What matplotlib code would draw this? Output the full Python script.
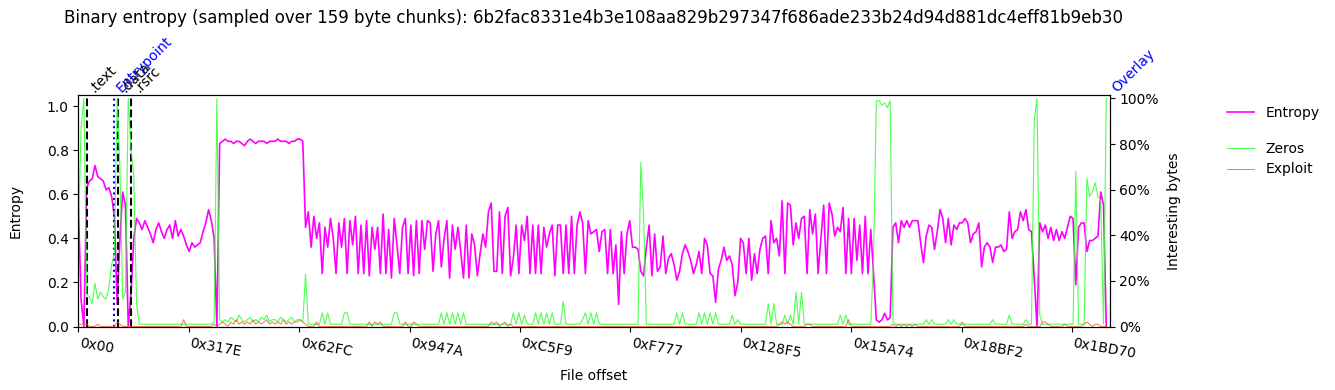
import numpy as np
import matplotlib
matplotlib.use("Agg")
import matplotlib.pyplot as plt
from matplotlib.ticker import PercentFormatter

SHA256 = "6b2fac8331e4b3e108aa829b297347f686ade233b24d94d881dc4eff81b9eb30"
CHUNK = 159
STEP = 2 * CHUNK          # one sample every other chunk
FILE_END = 118350

# entropy per sample (0..1)
ENTROPY = [
    0.54, 0.12, 0.00, 0.63, 0.66, 0.67, 0.73, 0.68, 0.67, 0.66,
    0.62, 0.63, 0.59, 0.50, 0.10, 0.40, 0.61, 0.55, 0.00, 0.15,
    0.40, 0.49, 0.47, 0.44, 0.48, 0.45, 0.42, 0.38, 0.44, 0.47,
    0.43, 0.40, 0.44, 0.46, 0.40, 0.48, 0.41, 0.44, 0.41, 0.37,
    0.34, 0.38, 0.36, 0.37, 0.38, 0.43, 0.47, 0.53, 0.48, 0.40,
    0.00, 0.83, 0.84, 0.85, 0.84, 0.84, 0.83, 0.84, 0.84, 0.83,
    0.82, 0.84, 0.85, 0.84, 0.83, 0.84, 0.84, 0.84, 0.83, 0.84,
    0.84, 0.84, 0.85, 0.84, 0.84, 0.84, 0.83, 0.84, 0.84, 0.85,
    0.85, 0.84, 0.45, 0.52, 0.36, 0.50, 0.40, 0.47, 0.24, 0.45,
    0.36, 0.49, 0.40, 0.24, 0.47, 0.36, 0.49, 0.24, 0.48, 0.37,
    0.50, 0.24, 0.46, 0.24, 0.48, 0.23, 0.45, 0.35, 0.45, 0.24,
    0.51, 0.24, 0.44, 0.22, 0.49, 0.37, 0.24, 0.45, 0.49, 0.24,
    0.46, 0.23, 0.48, 0.24, 0.48, 0.35, 0.48, 0.47, 0.25, 0.42,
    0.48, 0.27, 0.40, 0.48, 0.22, 0.46, 0.35, 0.45, 0.34, 0.22,
    0.46, 0.22, 0.42, 0.37, 0.23, 0.33, 0.42, 0.36, 0.52, 0.56,
    0.25, 0.25, 0.52, 0.24, 0.50, 0.54, 0.23, 0.31, 0.46, 0.24,
    0.46, 0.39, 0.50, 0.24, 0.46, 0.24, 0.46, 0.24, 0.45, 0.36,
    0.42, 0.46, 0.23, 0.46, 0.46, 0.24, 0.46, 0.24, 0.50, 0.24,
    0.46, 0.52, 0.47, 0.24, 0.48, 0.42, 0.43, 0.44, 0.34, 0.43,
    0.44, 0.24, 0.44, 0.24, 0.37, 0.10, 0.43, 0.24, 0.42, 0.48,
    0.36, 0.36, 0.35, 0.25, 0.23, 0.36, 0.46, 0.23, 0.42, 0.25,
    0.27, 0.41, 0.24, 0.31, 0.33, 0.28, 0.21, 0.25, 0.33, 0.37,
    0.34, 0.30, 0.24, 0.28, 0.34, 0.24, 0.40, 0.37, 0.24, 0.23,
    0.11, 0.26, 0.30, 0.36, 0.30, 0.32, 0.28, 0.14, 0.20, 0.40,
    0.38, 0.24, 0.40, 0.21, 0.33, 0.24, 0.35, 0.40, 0.41, 0.24,
    0.48, 0.38, 0.40, 0.32, 0.57, 0.24, 0.56, 0.55, 0.37, 0.47,
    0.40, 0.49, 0.50, 0.24, 0.53, 0.42, 0.51, 0.24, 0.40, 0.55,
    0.24, 0.56, 0.51, 0.41, 0.45, 0.43, 0.54, 0.24, 0.49, 0.24,
    0.49, 0.30, 0.46, 0.24, 0.50, 0.24, 0.44, 0.24, 0.03, 0.02,
    0.03, 0.06, 0.03, 0.04, 0.45, 0.47, 0.38, 0.48, 0.45, 0.48,
    0.45, 0.48, 0.48, 0.48, 0.38, 0.29, 0.41, 0.46, 0.45, 0.35,
    0.43, 0.53, 0.49, 0.38, 0.49, 0.37, 0.46, 0.44, 0.47, 0.47,
    0.49, 0.47, 0.38, 0.42, 0.43, 0.47, 0.27, 0.36, 0.38, 0.36,
    0.29, 0.36, 0.36, 0.37, 0.34, 0.35, 0.52, 0.40, 0.43, 0.44,
    0.52, 0.48, 0.53, 0.44, 0.43, 0.22, 0.00, 0.47, 0.43, 0.46,
    0.40, 0.45, 0.39, 0.44, 0.39, 0.43, 0.40, 0.45, 0.50, 0.49,
    0.19, 0.45, 0.47, 0.47, 0.34, 0.39, 0.39, 0.40, 0.41, 0.61,
    0.55, 0.00,
]

# fraction of zero bytes per sample
ZEROS = [
    0.40, 0.88, 1.00, 0.14, 0.13, 0.10, 0.19, 0.12, 0.15, 0.13,
    0.12, 0.17, 0.27, 0.32, 1.00, 0.70, 0.12, 0.15, 1.00, 0.78,
    0.66, 0.10, 0.01, 0.01, 0.01, 0.01, 0.01, 0.01, 0.01, 0.01,
    0.01, 0.01, 0.01, 0.01, 0.01, 0.01, 0.01, 0.01, 0.01, 0.01,
    0.01, 0.01, 0.01, 0.01, 0.01, 0.01, 0.01, 0.01, 0.01, 0.02,
    1.00, 0.03, 0.02, 0.03, 0.02, 0.04, 0.03, 0.02, 0.05, 0.03,
    0.02, 0.03, 0.04, 0.02, 0.03, 0.02, 0.04, 0.03, 0.05, 0.02,
    0.03, 0.03, 0.02, 0.04, 0.03, 0.02, 0.03, 0.04, 0.02, 0.03,
    0.03, 0.02, 0.23, 0.01, 0.01, 0.01, 0.01, 0.01, 0.06, 0.01,
    0.06, 0.01, 0.01, 0.01, 0.01, 0.01, 0.06, 0.06, 0.01, 0.01,
    0.01, 0.01, 0.01, 0.01, 0.01, 0.01, 0.01, 0.01, 0.01, 0.01,
    0.01, 0.01, 0.01, 0.01, 0.06, 0.06, 0.01, 0.01, 0.01, 0.01,
    0.01, 0.01, 0.01, 0.01, 0.01, 0.01, 0.01, 0.01, 0.01, 0.01,
    0.01, 0.06, 0.01, 0.06, 0.01, 0.06, 0.01, 0.06, 0.01, 0.06,
    0.01, 0.01, 0.01, 0.01, 0.01, 0.01, 0.01, 0.01, 0.01, 0.01,
    0.01, 0.01, 0.01, 0.01, 0.01, 0.01, 0.01, 0.06, 0.01, 0.06,
    0.01, 0.05, 0.01, 0.01, 0.01, 0.06, 0.01, 0.06, 0.01, 0.06,
    0.01, 0.06, 0.01, 0.01, 0.01, 0.11, 0.01, 0.01, 0.01, 0.01,
    0.01, 0.01, 0.03, 0.06, 0.01, 0.06, 0.01, 0.06, 0.01, 0.01,
    0.01, 0.01, 0.01, 0.01, 0.01, 0.01, 0.01, 0.01, 0.01, 0.01,
    0.01, 0.01, 0.01, 0.72, 0.49, 0.01, 0.01, 0.01, 0.01, 0.01,
    0.01, 0.01, 0.01, 0.01, 0.01, 0.01, 0.06, 0.01, 0.06, 0.01,
    0.01, 0.01, 0.01, 0.01, 0.06, 0.01, 0.06, 0.01, 0.06, 0.01,
    0.06, 0.01, 0.01, 0.01, 0.01, 0.01, 0.05, 0.01, 0.03, 0.01,
    0.01, 0.01, 0.01, 0.01, 0.01, 0.01, 0.01, 0.01, 0.01, 0.10,
    0.01, 0.10, 0.01, 0.01, 0.01, 0.05, 0.01, 0.05, 0.01, 0.15,
    0.01, 0.15, 0.01, 0.01, 0.01, 0.01, 0.01, 0.01, 0.01, 0.01,
    0.01, 0.01, 0.01, 0.01, 0.01, 0.05, 0.01, 0.05, 0.01, 0.01,
    0.01, 0.01, 0.01, 0.01, 0.01, 0.01, 0.01, 0.30, 0.99, 0.99,
    0.97, 0.98, 0.96, 0.99, 0.02, 0.01, 0.01, 0.01, 0.01, 0.01,
    0.01, 0.01, 0.01, 0.01, 0.01, 0.01, 0.03, 0.01, 0.03, 0.01,
    0.01, 0.01, 0.01, 0.01, 0.03, 0.01, 0.03, 0.01, 0.01, 0.01,
    0.01, 0.01, 0.01, 0.01, 0.01, 0.01, 0.01, 0.01, 0.01, 0.01,
    0.03, 0.01, 0.01, 0.01, 0.01, 0.01, 0.05, 0.01, 0.01, 0.01,
    0.01, 0.01, 0.03, 0.01, 0.01, 0.90, 1.00, 0.05, 0.01, 0.01,
    0.01, 0.01, 0.01, 0.01, 0.01, 0.01, 0.01, 0.01, 0.01, 0.01,
    0.68, 0.01, 0.01, 0.01, 0.65, 0.57, 0.59, 0.63, 0.57, 0.55,
    0.01, 1.00,
]

# fraction of exploit-pattern bytes per sample
EXPLOIT = [
    0.01, 0.01, 0.01, 0.01, 0.00, 0.00, 0.00, 0.01, 0.00, 0.00,
    0.00, 0.00, 0.00, 0.00, 0.02, 0.01, 0.00, 0.00, 0.00, 0.00,
    0.00, 0.00, 0.00, 0.00, 0.00, 0.00, 0.00, 0.00, 0.00, 0.00,
    0.00, 0.00, 0.00, 0.00, 0.00, 0.00, 0.00, 0.00, 0.03, 0.00,
    0.00, 0.00, 0.00, 0.00, 0.00, 0.00, 0.00, 0.00, 0.00, 0.01,
    0.00, 0.01, 0.02, 0.01, 0.00, 0.02, 0.01, 0.03, 0.01, 0.02,
    0.01, 0.02, 0.01, 0.03, 0.01, 0.02, 0.01, 0.02, 0.03, 0.01,
    0.02, 0.01, 0.02, 0.01, 0.03, 0.01, 0.02, 0.01, 0.02, 0.02,
    0.03, 0.02, 0.01, 0.00, 0.00, 0.00, 0.02, 0.00, 0.00, 0.00,
    0.00, 0.00, 0.00, 0.00, 0.00, 0.00, 0.00, 0.00, 0.00, 0.00,
    0.00, 0.00, 0.00, 0.00, 0.00, 0.02, 0.00, 0.02, 0.01, 0.02,
    0.00, 0.00, 0.00, 0.00, 0.00, 0.00, 0.00, 0.00, 0.02, 0.00,
    0.00, 0.02, 0.01, 0.00, 0.00, 0.00, 0.00, 0.00, 0.00, 0.00,
    0.00, 0.00, 0.00, 0.00, 0.00, 0.00, 0.00, 0.00, 0.00, 0.00,
    0.00, 0.00, 0.00, 0.00, 0.00, 0.00, 0.00, 0.00, 0.00, 0.02,
    0.01, 0.02, 0.00, 0.01, 0.02, 0.00, 0.01, 0.00, 0.00, 0.00,
    0.00, 0.00, 0.00, 0.00, 0.00, 0.00, 0.00, 0.00, 0.00, 0.00,
    0.00, 0.00, 0.00, 0.00, 0.00, 0.00, 0.00, 0.00, 0.00, 0.00,
    0.00, 0.00, 0.00, 0.00, 0.00, 0.00, 0.00, 0.00, 0.00, 0.00,
    0.00, 0.00, 0.00, 0.00, 0.00, 0.00, 0.00, 0.00, 0.00, 0.00,
    0.00, 0.00, 0.00, 0.00, 0.00, 0.00, 0.00, 0.00, 0.00, 0.00,
    0.00, 0.00, 0.00, 0.00, 0.00, 0.00, 0.00, 0.00, 0.00, 0.00,
    0.00, 0.00, 0.00, 0.00, 0.00, 0.00, 0.00, 0.00, 0.00, 0.00,
    0.00, 0.00, 0.00, 0.00, 0.00, 0.00, 0.00, 0.00, 0.00, 0.00,
    0.00, 0.00, 0.00, 0.00, 0.00, 0.00, 0.00, 0.00, 0.00, 0.00,
    0.00, 0.00, 0.00, 0.01, 0.02, 0.01, 0.02, 0.01, 0.00, 0.00,
    0.00, 0.00, 0.00, 0.01, 0.01, 0.00, 0.00, 0.00, 0.00, 0.00,
    0.00, 0.00, 0.00, 0.00, 0.00, 0.00, 0.00, 0.00, 0.03, 0.00,
    0.00, 0.00, 0.00, 0.00, 0.00, 0.00, 0.00, 0.00, 0.00, 0.00,
    0.00, 0.00, 0.00, 0.00, 0.01, 0.00, 0.01, 0.00, 0.01, 0.00,
    0.01, 0.00, 0.01, 0.00, 0.00, 0.00, 0.00, 0.00, 0.00, 0.00,
    0.00, 0.00, 0.00, 0.00, 0.00, 0.00, 0.00, 0.00, 0.00, 0.02,
    0.00, 0.00, 0.00, 0.00, 0.00, 0.00, 0.00, 0.00, 0.00, 0.00,
    0.00, 0.00, 0.00, 0.00, 0.00, 0.00, 0.00, 0.00, 0.00, 0.00,
    0.00, 0.00, 0.01, 0.00, 0.00, 0.00, 0.00, 0.00, 0.02, 0.02,
    0.01, 0.00, 0.00, 0.00, 0.00, 0.00, 0.01, 0.00, 0.00, 0.00,
    0.00, 0.00, 0.00, 0.01, 0.02, 0.01, 0.00, 0.01, 0.01, 0.00,
    0.00, 0.00,
]

SECTIONS = [".text", "Entrypoint", ".data", ".rsrc", "Overlay"]
SECTION_OFFSETS = [0x3C0, 0x1000, 0x11A0, 0x17C0, 0x1CE40]
SECTION_COLORS = ["black", "blue", "black", "black", "blue"]
SECTION_STYLES = ["--", ":", "--", "--", None]

XTICKS = [0x0, 0x317E, 0x62FC, 0x947A, 0xC5F9, 0xF777,
          0x128F5, 0x15A74, 0x18BF2, 0x1BD70]

x = np.arange(len(ENTROPY)) * STEP

fig, ax = plt.subplots(figsize=(13.35, 3.9), dpi=100)
fig.subplots_adjust(left=0.0587, right=0.8311, bottom=0.1628, top=0.7564)

l1, = ax.plot(x, ENTROPY, color="#ff00ff", lw=1.2, label="Entropy")
ax.set_xlim(0, FILE_END)
ax.set_ylim(0, 1.05)
ax.set_ylabel("Entropy", labelpad=17)
ax.set_xlabel("File offset", labelpad=6)
ax.set_xticks(XTICKS)
ax.set_xticklabels(["0x%02X" % v for v in XTICKS], rotation=-10, ha="left")

ax2 = ax.twinx()
l2, = ax2.plot(x, ZEROS, color="#33ff33", lw=0.8, alpha=0.85, label="Zeros")
l3, = ax2.plot(x, EXPLOIT, color="#f0603c", lw=0.7, alpha=0.85, label="Exploit")
ax2.set_ylim(0, 1.015)
ax2.yaxis.set_major_formatter(PercentFormatter(1.0, decimals=0))
ax2.set_ylabel("Interesting bytes", labelpad=6)

for name, off, col, ls in zip(SECTIONS, SECTION_OFFSETS, SECTION_COLORS, SECTION_STYLES):
    if ls:
        ax.axvline(off, color=col, ls=ls, lw=1.5)
    ax.text(off, 1.0, name, transform=ax.get_xaxis_transform(), rotation=45,
            ha="left", va="bottom", color=col, fontsize=10)

ax.set_title(f"Binary entropy (sampled over {CHUNK} byte chunks): {SHA256}",
             fontsize=12, pad=52)

fig.legend(handles=[l1], loc="upper left", bbox_to_anchor=(1221 / 1335, 1 - 100 / 390),
           frameon=False, borderaxespad=0)
fig.legend(handles=[l2, l3], loc="upper left", bbox_to_anchor=(1221 / 1335, 1 - 136 / 390),
           frameon=False, borderaxespad=0)

fig.savefig("out.png", dpi=100)
plt.close(fig)
